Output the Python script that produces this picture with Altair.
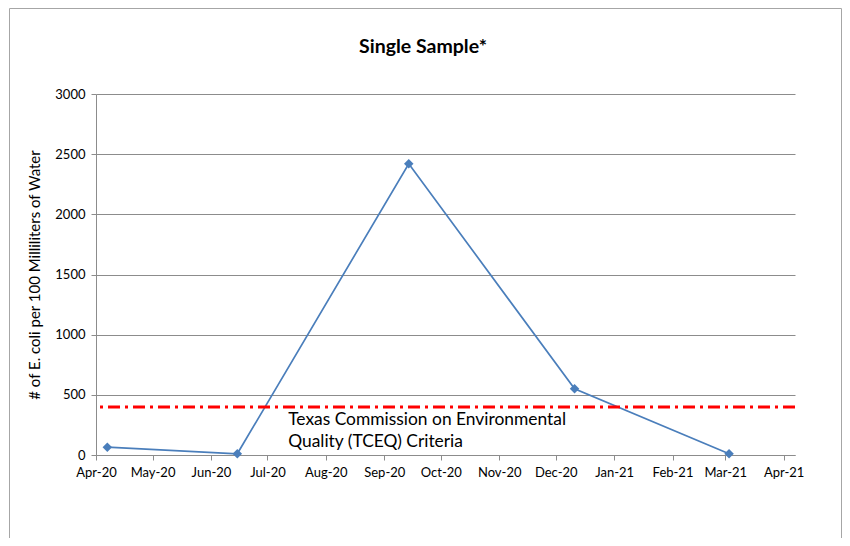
import altair as alt
import pandas as pd

# ---- data ----
sample_dates = ["2020-04-07", "2020-06-15", "2020-09-14", "2020-12-11", "2021-03-03"]
ecoli_values = [65, 10, 2420, 550, 10]
criterion_value = 399
annotation_lines = ["Texas Commission on Environmental", "Quality (TCEQ) Criteria"]
annotation_date = "2020-07-12"
annotation_y = [291, 108]
month_ticks = pd.date_range("2020-04-01", "2021-04-01", freq="MS").strftime("%Y-%m-%d").tolist()
chart_title = "Single Sample*"
y_title = "# of E. coli per 100 Milliliters of Water"

FONT = "Lato"
BLUE = "#4A7EBB"
GRID = "#8c8c8c"
W, H = 699, 361

df = pd.DataFrame({"date": sample_dates, "value": ecoli_values})
ann = pd.DataFrame({"date": [annotation_date] * 2, "value": annotation_y, "label": annotation_lines})
crit = pd.DataFrame({"value": [criterion_value]})
one = pd.DataFrame({"a": [0]})

xscale = alt.Scale(type="utc", domain=[alt.DateTime(year=2020, month=4, date=1, utc=True),
                                       alt.DateTime(year=2021, month=4, date=7, utc=True)])
yscale = alt.Scale(domain=[0, 3000], nice=False)

xaxis = alt.Axis(values=[alt.DateTime(year=int(d[:4]), month=int(d[5:7]), date=1, utc=True) for d in month_ticks],
                 labelExpr="utcFormat(datum.value, '%b-%y')", title=None, grid=False, labelFont=FONT,
                 labelFontSize=13, labelColor="black", tickColor=GRID, tickSize=5,
                 domainColor=GRID, labelPadding=6, labelFlush=False, labelOverlap=False)
yaxis = alt.Axis(values=[0, 500, 1000, 1500, 2000, 2500, 3000], format="d", title=y_title, grid=True,
                 gridColor=GRID, gridWidth=1, domainColor=GRID, tickColor=GRID, tickSize=5,
                 labelFont=FONT, labelFontSize=13, labelColor="black", labelPadding=6,
                 titleFont=FONT, titleFontSize=15, titleFontWeight="normal", titleColor="black",
                 titleX=-62, titleY=H / 2, titleAngle=270, titleAlign="center", titleBaseline="middle")

line = alt.Chart(df).mark_line(color=BLUE, strokeWidth=1.7).encode(
    x=alt.X("date:T", scale=xscale, axis=xaxis),
    y=alt.Y("value:Q", scale=yscale, axis=yaxis),
)
pts = alt.Chart(df).mark_point(shape="diamond", filled=True, color=BLUE, size=90, opacity=1).encode(
    x=alt.X("date:T", scale=xscale), y=alt.Y("value:Q", scale=yscale))

rule = alt.Chart(crit).mark_rule(color="#FF0000", strokeWidth=3, strokeDash=[12, 5, 3, 5]).encode(
    y=alt.Y("value:Q", scale=yscale))

text = alt.Chart(ann).mark_text(align="left", baseline="middle", font=FONT, fontSize=17.4, color="black").encode(
    x=alt.X("date:T", scale=xscale), y=alt.Y("value:Q", scale=yscale), text="label:N")

title = alt.Chart(one).mark_text(font=FONT, fontSize=19.5, fontWeight="bold", color="black",
                                 align="center", baseline="middle").encode(
    x=alt.value(327), y=alt.value(-47), text=alt.value(chart_title))

bcol = "#a6a6a6"
b_left = alt.Chart(one).mark_rule(color=bcol, strokeWidth=1).encode(
    x=alt.value(-86.5), y=alt.value(-85.5), y2=alt.value(446))
b_right = alt.Chart(one).mark_rule(color=bcol, strokeWidth=1).encode(
    x=alt.value(745.5), y=alt.value(-85.5), y2=alt.value(446))
b_top = alt.Chart(one).mark_rule(color=bcol, strokeWidth=1).encode(
    x=alt.value(-86.5), x2=alt.value(745.5), y=alt.value(-85.5))

chart = alt.layer(line, rule, pts, text, title, b_left, b_right, b_top).properties(
    width=W, height=H,
    autosize=alt.AutoSizeParams(type="none"),
    padding={"left": 88, "top": 86, "right": 47, "bottom": 83},
).configure_view(stroke=None)

chart.save("out.html", embed_options={"renderer": "svg", "actions": False})
